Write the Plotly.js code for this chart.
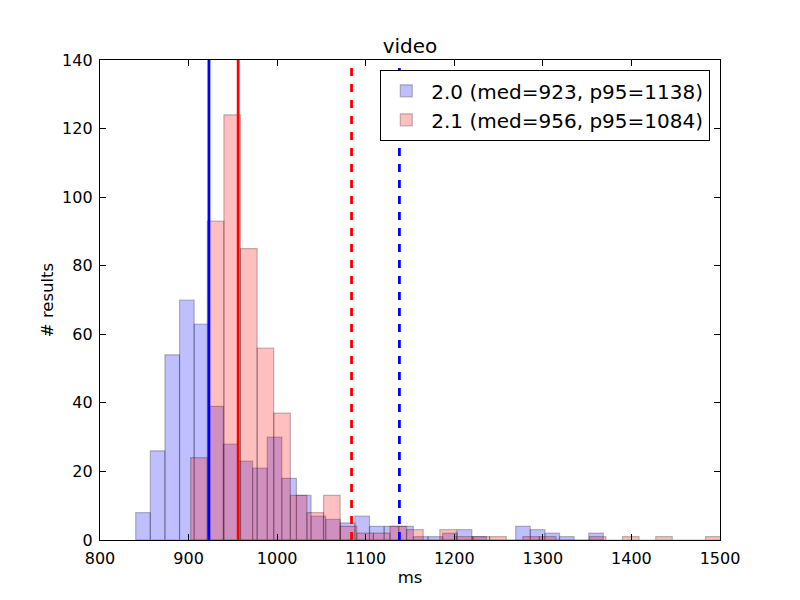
<!DOCTYPE html>
<html>
<head>
<meta charset="utf-8">
<script src="https://cdn.plot.ly/plotly-3.0.1.min.js"></script>
<style>html,body{margin:0;padding:0;background:#fff;}#chart{width:800px;height:600px;}</style>
</head>
<body>
<div id="chart"></div>
<script>
// Histogram parameters (bin start and width)
const blueStart = 840.3;
const blueWidth = 16.5;
const redStart = 902.4;
const redWidth = 18.75;

// Counts per bin
const blueCounts = [8, 26, 54, 70, 63, 39, 28, 23, 21, 30, 18, 13, 7, 6, 5, 7,
                    4, 4, 4, 1, 1, 2, 3, 1, 0, 0, 4, 3, 2, 1, 0, 2];
const redCounts = [24, 93, 124, 85, 56, 37, 13, 8, 13, 4, 2, 2, 4, 3, 0, 3,
                   1, 1, 1, 0, 1, 1, 0, 0, 1, 0, 1, 0, 1, 0, 0, 1];

// Series names and statistics
const seriesNames = ["2.0", "2.1"];
const medians = [923, 956];
const p95s = [1138, 1084];

const xTicks = [800, 900, 1000, 1100, 1200, 1300, 1400, 1500];
const yTicks = [0, 20, 40, 60, 80, 100, 120, 140];

function centers(start, width, n) {
  const c = [];
  for (let i = 0; i < n; i++) c.push(start + width * (i + 0.5));
  return c;
}

const fills = ["rgba(0,0,255,0.25)", "rgba(255,0,0,0.25)"];
const lineColors = ["#0000ff", "#ff0000"];

const traces = [
  {
    type: "bar",
    x: centers(blueStart, blueWidth, blueCounts.length),
    y: blueCounts,
    width: blueWidth,
    name: seriesNames[0] + " (med=" + medians[0] + ", p95=" + p95s[0] + ")",
    marker: {color: fills[0], line: {color: "rgba(0,0,0,0.25)", width: 1.2}},
    hoverinfo: "x+y"
  },
  {
    type: "bar",
    x: centers(redStart, redWidth, redCounts.length),
    y: redCounts,
    width: redWidth,
    name: seriesNames[1] + " (med=" + medians[1] + ", p95=" + p95s[1] + ")",
    marker: {color: fills[1], line: {color: "rgba(0,0,0,0.25)", width: 1.2}},
    hoverinfo: "x+y"
  }
];

const shapes = [];
for (let i = 0; i < 2; i++) {
  shapes.push({type: "line", xref: "x", yref: "paper", x0: medians[i], x1: medians[i], y0: 0, y1: 1,
               line: {color: lineColors[i], width: 2.8}, layer: "above"});
  shapes.push({type: "line", xref: "x", yref: "paper", x0: p95s[i], x1: p95s[i], y0: 0, y1: 1,
               line: {color: lineColors[i], width: 2.8, dash: "8px,8px"}, layer: "above"});
}

const axisCommon = {
  showline: true, linecolor: "#000", linewidth: 1.2, mirror: "ticks",
  ticks: "inside", ticklen: 6, tickwidth: 1.2, tickcolor: "#000",
  showgrid: false, zeroline: false,
  tickfont: {family: "DejaVu Sans", size: 16, color: "#000"}
};

const layout = {
  width: 800, height: 600,
  margin: {l: 100, r: 80, t: 60, b: 60},
  paper_bgcolor: "#fff", plot_bgcolor: "#fff",
  font: {family: "DejaVu Sans", color: "#000"},
  barmode: "overlay", bargap: 0,
  title: {text: "video", font: {family: "DejaVu Sans", size: 20, color: "#000"},
          x: 0.5, xanchor: "center", xref: "paper", y: 1 - 46 / 600, yref: "container", yanchor: "middle"},
  xaxis: Object.assign({}, axisCommon, {
    range: [800, 1500], tickvals: xTicks, ticktext: xTicks.map(String),
    ticklabelstandoff: 4,
    title: {text: "ms", font: {family: "DejaVu Sans", size: 16.5, color: "#000"}, standoff: 4}
  }),
  yaxis: Object.assign({}, axisCommon, {
    range: [0, 140], tickvals: yTicks, ticktext: yTicks.map(String),
    ticklabelstandoff: 3,
    title: {text: "# results", font: {family: "DejaVu Sans", size: 16.5, color: "#000"}, standoff: 4}
  }),
  legend: {
    x: 0.984, y: 0.979, xanchor: "right", yanchor: "top",
    bgcolor: "#fff", bordercolor: "#000", borderwidth: 1.2,
    font: {family: "DejaVu Sans", size: 20, color: "#000"},
    itemwidth: 40, tracegroupgap: 0, traceorder: "normal"
  },
  shapes: shapes,
  showlegend: true
};

Plotly.newPlot("chart", traces, layout, {displayModeBar: false, staticPlot: true});
</script>
</body>
</html>
